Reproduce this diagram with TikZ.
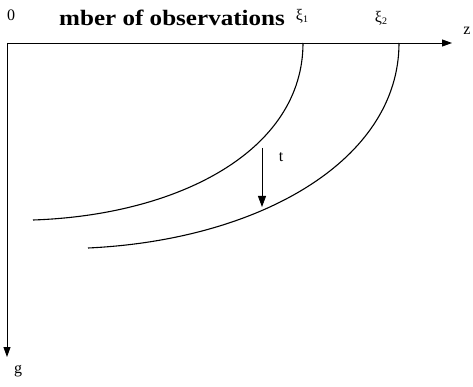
\documentclass[tikz,border=0pt]{standalone}
\usepackage{fontspec}
\setmainfont{Liberation Serif}
\usetikzlibrary{arrows.meta}
\begin{document}
\begin{tikzpicture}[x=1pt,y=-1pt,
  axis/.style={line width=0.9pt,-{Triangle[length=10pt,width=7pt]}},
  curve/.style={line width=1.1pt},
  lbl/.style={inner sep=0pt,font=\fontsize{16}{16}\selectfont}]
\useasboundingbox (0,0) rectangle (473,387);
\coordinate (O) at (7,43);
\coordinate (zend) at (452,43);
\coordinate (gend) at (7,357);
\draw[axis] (O) -- (zend);
\draw[axis] (O) -- (gend);
\node[lbl] (zero) at (11,15) {0};
\node[inner sep=0pt,anchor=west] (title) at (59,18) {\scalebox{1.14}[1]{\fontsize{22}{22}\selectfont\bfseries mber of observations}};
\node[lbl] (xi1) at (302,16) {ξ\raisebox{-0.3ex}{\fontsize{10}{10}\selectfont 1}};
\node[lbl] (xi2) at (381,18) {ξ\raisebox{-0.3ex}{\fontsize{10}{10}\selectfont 2}};
\node[lbl] (z) at (467,31) {z};
\node[lbl] (g) at (18,371) {g};
\coordinate (c1s) at (303,43);
\coordinate (c1e) at (33,220);
\coordinate (c2s) at (399,43);
\coordinate (c2e) at (88,248);
\draw[curve] (c1s) .. controls (303,150) and (180,215) .. (c1e);
\draw[curve] (c2s) .. controls (399,160) and (260,240) .. (c2e);
\coordinate (ts) at (262,148);
\coordinate (te) at (262,207);
\draw[line width=0.8pt,-{Triangle[length=11pt,width=8pt]}] (ts) -- (te);
\node[lbl] (t) at (281,157) {t};
\end{tikzpicture}
\end{document}
